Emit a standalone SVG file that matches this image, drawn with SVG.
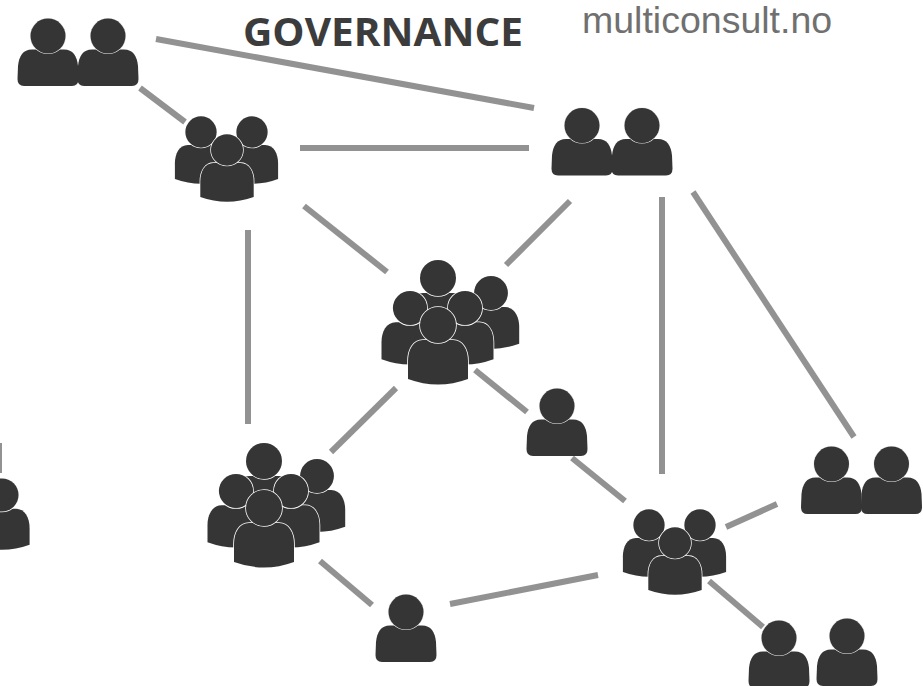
<svg xmlns="http://www.w3.org/2000/svg" width="923" height="686" viewBox="0 0 923 686">
<style>
.c line{stroke:#929292;stroke-width:6}
.p{fill:#353535}
.p circle{stroke:#e8e8e8;stroke-width:1.200;paint-order:stroke}
.q{fill:#353535;stroke:#fff;stroke-width:1.600;paint-order:stroke}
.t{font-family:"Open Sans","Liberation Sans",sans-serif;font-weight:700;font-size:40px;fill:#3c3c3c}
.u{font-family:"Liberation Sans",Arial,sans-serif;font-size:37.500px;fill:#707070}
</style>
<defs>
<g id="p" class="p">
<path d="M-16,13.500H16C25,13.500 29,20 30,30L30.500,43Q30.500,50 24,50H-24Q-30.500,50 -30.500,43L-30,30C-29,20 -25,13.500 -16,13.500Z"/>
<circle r="17.500"/>
</g>
<g id="q" class="q">
<path d="M-15,15H15C25,15 30,25 30,36V54Q15,59.500 0,59.500Q-15,59.500 -30,54V36C-30,25 -25,15 -15,15Z"/>
<circle r="18"/>
</g>
<g id="five">
<use href="#q" transform="translate(0,-47)"/>
<use href="#q" transform="translate(53,-32) scale(.94)"/>
<use href="#q" transform="translate(-28,-17) scale(.95)"/>
<use href="#q" transform="translate(27,-17) scale(.95)"/>
<use href="#q"/>
</g>
<g id="three">
<use href="#q" transform="translate(-26,-18) scale(.87)"/>
<use href="#q" transform="translate(25,-18) scale(.87)"/>
<use href="#q" transform="scale(.89,.87)"/>
</g>
</defs>
<rect width="923" height="686" fill="#fff"/>
<g id="connectors" class="c">
<line x1="156" y1="39" x2="534" y2="108"/>
<line x1="140" y1="88" x2="185" y2="122"/>
<line x1="300" y1="148" x2="529" y2="148"/>
<line x1="304" y1="206" x2="387" y2="272"/>
<line x1="248" y1="230" x2="248" y2="424"/>
<line x1="570" y1="201" x2="506" y2="265"/>
<line x1="662" y1="197" x2="662" y2="474"/>
<line x1="693" y1="192" x2="854" y2="437"/>
<line x1="396" y1="388" x2="331" y2="452"/>
<line x1="475" y1="370" x2="527" y2="412"/>
<line x1="572" y1="458" x2="625" y2="501"/>
<line x1="320" y1="561" x2="372" y2="605"/>
<line x1="450" y1="604" x2="598" y2="575"/>
<line x1="726" y1="527" x2="777" y2="504"/>
<line x1="709" y1="581" x2="763" y2="627"/>
<line x1="-1" y1="443" x2="-1" y2="473"/>
</g>
<g id="n1"><use href="#p" x="48" y="36"/><use href="#p" x="108" y="36"/></g>
<g id="n2"><use href="#three" transform="translate(227,150)"/></g>
<g id="n3"><use href="#p" x="582" y="125.500"/><use href="#p" x="642" y="125.500"/></g>
<g id="n4"><use href="#five" transform="translate(438,325)"/></g>
<g id="n5"><use href="#p" x="557" y="406"/></g>
<g id="n6"><use href="#five" transform="translate(264,508)"/></g>
<g id="n7"><use href="#three" transform="translate(675,543)"/></g>
<g id="n8"><use href="#p" x="831.500" y="464"/><use href="#p" x="891.500" y="464"/></g>
<g id="n9"><use href="#p" x="406" y="612"/></g>
<g id="n10"><use href="#p" x="779" y="638"/><use href="#p" x="847" y="636"/></g>
<g id="n11"><use href="#q" transform="translate(2,495) scale(.92)"/></g>
<text class="t" x="243" y="46" textLength="280" lengthAdjust="spacingAndGlyphs">GOVERNANCE</text>
<text class="u" x="582" y="33">multiconsult.no</text>
</svg>
